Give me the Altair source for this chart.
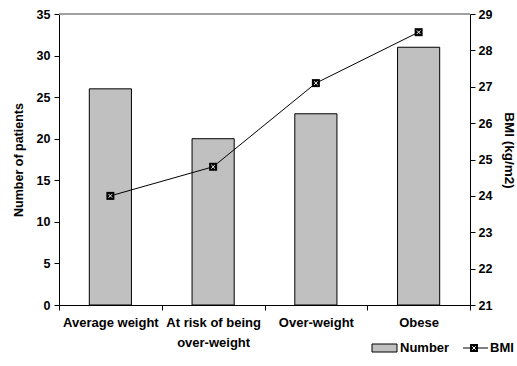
import altair as alt
import pandas as pd

categories = ["Average weight", "At risk of being over-weight", "Over-weight", "Obese"]
number = [26, 20, 23, 31]
bmi = [24.0, 24.8, 27.1, 28.5]

df = pd.DataFrame({"cat": categories, "Number": number, "BMI": bmi})

FONT = "Liberation Sans"
W, H = 411, 291
FS = 12.5

xenc = alt.X(
    "cat:N",
    sort=categories,
    scale=alt.Scale(paddingInner=0, paddingOuter=0),
    axis=alt.Axis(
        title=None,
        labelAngle=0,
        labelFont=FONT,
        labelFontSize=13,
        labelFontWeight="bold",
        labelColor="black",
        labelPadding=6,
        labelLineHeight=20,
        labelExpr="datum.label == 'At risk of being over-weight' ? ['At risk of being', 'over-weight'] : datum.label",
        domainColor="black",
        tickColor="black",
        tickSize=5,
        tickBand="extent",
        grid=False,
    ),
)

bars = alt.Chart(df).mark_bar(
    width=alt.RelativeBandSize(0.41), color="#c0c0c0", stroke="black", strokeWidth=1
).encode(
    x=xenc,
    y=alt.Y(
        "Number:Q",
        scale=alt.Scale(domain=[0, 35], nice=False),
        axis=alt.Axis(
            title="Number of patients",
            titleFont=FONT,
            titleFontSize=FS,
            titleFontWeight="bold",
            titleColor="black",
            titlePadding=11,
            values=[0, 5, 10, 15, 20, 25, 30, 35],
            labelFont=FONT,
            labelFontSize=FS,
            labelFontWeight="bold",
            labelColor="black",
            labelPadding=4,
            tickSize=5,
            tickColor="black",
            domainColor="black",
            grid=False,
        ),
    ),
)

bmi_axis = alt.Axis(
    orient="right",
    title="BMI (kg/m2)",
    titleFont=FONT,
    titleFontSize=13.5,
    titleFontWeight="bold",
    titleColor="black",
    titlePadding=10,
    titleY=136,
    values=list(range(21, 30)),
    labelFont=FONT,
    labelFontSize=FS,
    labelFontWeight="bold",
    labelColor="black",
    labelPadding=3,
    tickSize=5,
    tickColor="black",
    domainColor="black",
    grid=False,
)
bmi_scale = alt.Scale(domain=[21, 29], nice=False, zero=False)
yb = alt.Y("BMI:Q", scale=bmi_scale, axis=bmi_axis)
xb = alt.X("cat:N", sort=categories)

XPATH = "M-0.45,-0.45L0.45,0.45M-0.45,0.45L0.45,-0.45"

line = alt.Chart(df).mark_line(color="black", strokeWidth=1).encode(x=xb, y=yb)
sq = alt.Chart(df).mark_point(shape="square", filled=True, color="black", size=64, opacity=1).encode(x=xb, y=yb)
xs = alt.Chart(df).mark_point(shape=XPATH, filled=False, color="white", strokeWidth=1, size=64, opacity=1).encode(x=xb, y=yb)

right = alt.layer(line, sq, xs)

# top border of plot area
topline = alt.Chart(df).mark_rule(color="#9a9a9a", strokeWidth=1).encode(
    x=alt.value(0), x2=alt.value(W), y=alt.value(0)
)

# legend
leg_df = pd.DataFrame({"a": [0]})
LY = 334
leg_rect = alt.Chart(leg_df).mark_rect(color="#c0c0c0", stroke="black", strokeWidth=1).encode(
    x=alt.value(313), x2=alt.value(338), y=alt.value(LY - 4), y2=alt.value(LY + 4)
)
leg_t1 = alt.Chart(leg_df).mark_text(
    text="Number", font=FONT, fontSize=13, fontWeight="bold", align="left", baseline="middle", color="black"
).encode(x=alt.value(341), y=alt.value(LY))
leg_line = alt.Chart(leg_df).mark_rule(color="black", strokeWidth=1).encode(
    x=alt.value(404), x2=alt.value(429), y=alt.value(LY)
)
leg_sq = alt.Chart(leg_df).mark_point(shape="square", filled=True, color="black", size=64, opacity=1).encode(
    x=alt.value(415), y=alt.value(LY)
)
leg_x = alt.Chart(leg_df).mark_point(shape=XPATH, filled=False, color="white", strokeWidth=1, size=64, opacity=1).encode(
    x=alt.value(415), y=alt.value(LY)
)
leg_t2 = alt.Chart(leg_df).mark_text(
    text="BMI", font=FONT, fontSize=13, fontWeight="bold", align="left", baseline="middle", color="black"
).encode(x=alt.value(431), y=alt.value(LY))

chart = alt.layer(
    topline, bars, right, leg_rect, leg_t1, leg_line, leg_sq, leg_x, leg_t2
).resolve_scale(y="independent").properties(
    width=W,
    height=H,
    autosize="none",
    padding={"left": 59, "top": 14, "right": 47, "bottom": 61},
    background="white",
).configure_view(stroke=None)

chart.save("out.html", embed_options={"renderer": "svg", "actions": False})
